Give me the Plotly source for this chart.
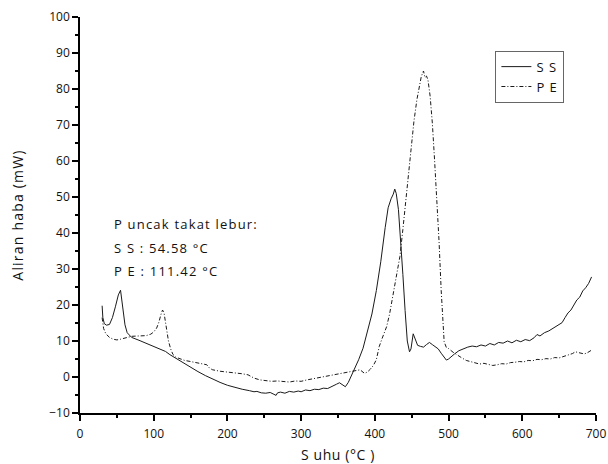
import plotly.graph_objects as go

# DSC heat-flow traces (temperature in °C, heat flow in mW)
ss_temp = [30, 31, 33, 36, 40, 44, 48, 52, 55, 58, 61, 64, 67, 70, 80, 90, 100, 110, 116, 122,
           130, 140, 150, 160, 170, 180, 190, 200, 210, 220, 230, 236, 240, 246, 252, 258, 262,
           266, 268, 272, 278, 284, 290, 296, 300, 306, 312, 318, 324, 330, 336, 342, 348, 352,
           356, 360, 364, 368, 372, 378, 384, 390, 396, 402, 408, 414, 418, 422, 425, 427, 429,
           432, 435, 438, 441, 444, 447, 449, 452, 455, 458, 462, 466, 470, 474, 478, 482, 486,
           490, 494, 497, 500, 504, 508, 514, 520, 526, 532, 538, 544, 550, 556, 562, 568, 574,
           580, 586, 592, 598, 604, 610, 616, 620, 624, 630, 636, 642, 648, 654, 658, 662, 666,
           670, 674, 678, 682, 686, 690, 694]
ss_flow = [19.8, 16.5, 14.8, 14.4, 14.6, 16.5, 19.5, 22.8, 24.1, 19.5, 14.5, 12.3, 11.5, 11.0,
           10.2, 9.3, 8.4, 7.6, 7.1, 6.2, 5.2, 3.9, 2.6, 1.5, 0.4, -0.6, -1.5, -2.3, -2.9, -3.4,
           -3.8, -4.1, -4.0, -4.4, -4.5, -4.3, -4.7, -5.1, -4.4, -4.2, -4.5, -4.0, -4.2, -3.9,
           -4.1, -3.6, -3.8, -3.4, -3.5, -3.1, -3.2, -2.7, -2.0, -1.6, -2.2, -2.7, -1.5, 0.2,
           2.0, 4.8, 8.0, 12.5, 17.5, 24.0, 32.0, 41.5, 47.0, 49.5, 50.8, 52.2, 51.0, 46.5,
           38.5, 28.5, 18.5, 10.0, 7.0, 7.8, 12.0, 10.3, 8.8, 8.5, 8.3, 9.0, 9.6, 9.0, 8.5, 7.8,
           6.6, 5.5, 4.7, 5.0, 5.8, 6.4, 7.3, 7.9, 8.3, 8.6, 8.4, 8.9, 8.6, 9.3, 8.9, 9.6, 9.4,
           10.0, 9.5, 10.2, 9.8, 10.4, 10.1, 10.9, 11.8, 11.4, 12.3, 12.8, 13.6, 14.2, 15.1,
           16.5, 17.8, 18.6, 20.0, 21.4, 22.2, 23.9, 24.8, 26.0, 27.8]

pe_temp = [30, 32, 35, 40, 45, 50, 55, 60, 65, 70, 80, 90, 96, 100, 104, 107, 110, 112, 114,
           116, 118, 120, 123, 126, 130, 136, 142, 150, 158, 166, 172, 176, 180, 190, 200, 210,
           220, 228, 236, 244, 252, 260, 268, 276, 284, 292, 300, 308, 316, 324, 332, 340, 348,
           356, 364, 372, 380, 386, 390, 394, 398, 402, 406, 410, 416, 420, 425, 430, 434, 438,
           443, 447, 450, 453, 457, 460, 463, 466, 468, 470, 472, 475, 478, 481, 484, 487, 490,
           492, 494, 497, 500, 506, 512, 518, 524, 530, 536, 542, 548, 554, 560, 566, 572, 578,
           584, 590, 596, 602, 608, 614, 620, 626, 632, 638, 644, 650, 656, 662, 668, 672, 676,
           680, 684, 688, 692, 695]
pe_flow = [16.5, 13.5, 12.0, 11.0, 10.5, 10.3, 10.5, 10.8, 11.1, 11.3, 11.4, 11.5, 11.9, 12.5,
           13.6, 15.2, 17.5, 18.6, 17.8, 15.5, 12.5, 10.0, 7.8, 6.3, 5.5, 5.0, 4.6, 4.3, 4.0,
           3.7, 3.4, 2.4, 2.0, 1.6, 1.4, 1.2, 0.9, 0.6, -0.3, -0.8, -1.0, -1.2, -1.1, -1.3,
           -1.4, -1.1, -1.2, -0.8, -0.5, -0.3, 0.1, 0.3, 0.6, 0.9, 1.3, 1.7, 2.0, 1.0, 1.4, 2.2,
           3.2, 4.8, 8.5, 10.8, 14.0, 17.5, 23.2, 29.0, 33.5, 41.0, 51.0, 59.5, 65.0, 71.0,
           77.0, 80.5, 83.5, 85.0, 83.2, 83.6, 82.6, 78.0, 70.5, 60.3, 50.0, 38.0, 24.0, 15.5,
           9.8, 8.2, 7.9, 6.9, 6.0, 5.3, 4.6, 4.2, 3.9, 3.6, 3.8, 3.5, 3.2, 3.4, 3.7, 3.6, 4.0,
           4.1, 4.3, 4.2, 4.6, 4.5, 4.9, 4.8, 5.1, 5.0, 5.4, 5.3, 5.7, 5.9, 6.5, 7.0, 6.8, 6.6,
           6.4, 6.7, 7.2, 7.6]

peak_lines = ["P uncak takat lebur:", "S S : 54.58 °C", "P E : 111.42 °C"]
peak_y = [42.5, 35.8, 29.4]

FONT = "Open Sans"


def spaced(text, px):
    """Wrap text in a span with extra letter spacing."""
    return f'<span style="letter-spacing:{px}px">{text}</span>'


fig = go.Figure()
fig.add_trace(go.Scatter(x=ss_temp, y=ss_flow, mode="lines", name=spaced("S S", 1),
                         line=dict(color="#1a1a1a", width=1)))
fig.add_trace(go.Scatter(x=pe_temp, y=pe_flow, mode="lines", name=spaced("P E", 1),
                         line=dict(color="#1a1a1a", width=1, dash="4px,2px,1px,2px")))

for txt, yy in zip(peak_lines, peak_y):
    fig.add_annotation(x=44, y=yy, text=spaced(txt, 1.2), showarrow=False, xanchor="left",
                       yanchor="middle", font=dict(family=FONT, size=13, color="#111"))

axis_common = dict(showline=True, linecolor="black", linewidth=1.5, ticks="outside",
                   ticklen=6, tickwidth=1.5, tickcolor="black", showgrid=False,
                   zeroline=False, mirror=False, automargin=False,
                   tickfont=dict(family=FONT, size=12, color="#111"))

fig.update_xaxes(range=[0, 700], dtick=100, tick0=0, ticklabelstandoff=3,
                 minor=dict(dtick=50, ticks="outside", ticklen=3, tickcolor="black", tickwidth=1.5),
                 title=dict(text=spaced("S uhu (°C )", 0.6),
                            font=dict(family=FONT, size=14, color="#111"), standoff=9),
                 **axis_common)
fig.update_yaxes(range=[-10, 100], dtick=10, tick0=0,
                 minor=dict(dtick=5, ticks="outside", ticklen=3, tickcolor="black", tickwidth=1.5),
                 title=dict(text=spaced("Aliran haba (mW)", 1.2),
                            font=dict(family=FONT, size=14, color="#111"), standoff=22),
                 **axis_common)

fig.update_layout(
    width=608, height=464,
    margin=dict(l=80, r=12, t=17, b=51),
    plot_bgcolor="white", paper_bgcolor="white",
    showlegend=True,
    legend=dict(x=0.805, y=0.915, xanchor="left", yanchor="top",
                bgcolor="white", bordercolor="#666", borderwidth=1,
                font=dict(family=FONT, size=13, color="#111"),
                itemwidth=30, tracegroupgap=0),
)

fig.write_html("out.html")
